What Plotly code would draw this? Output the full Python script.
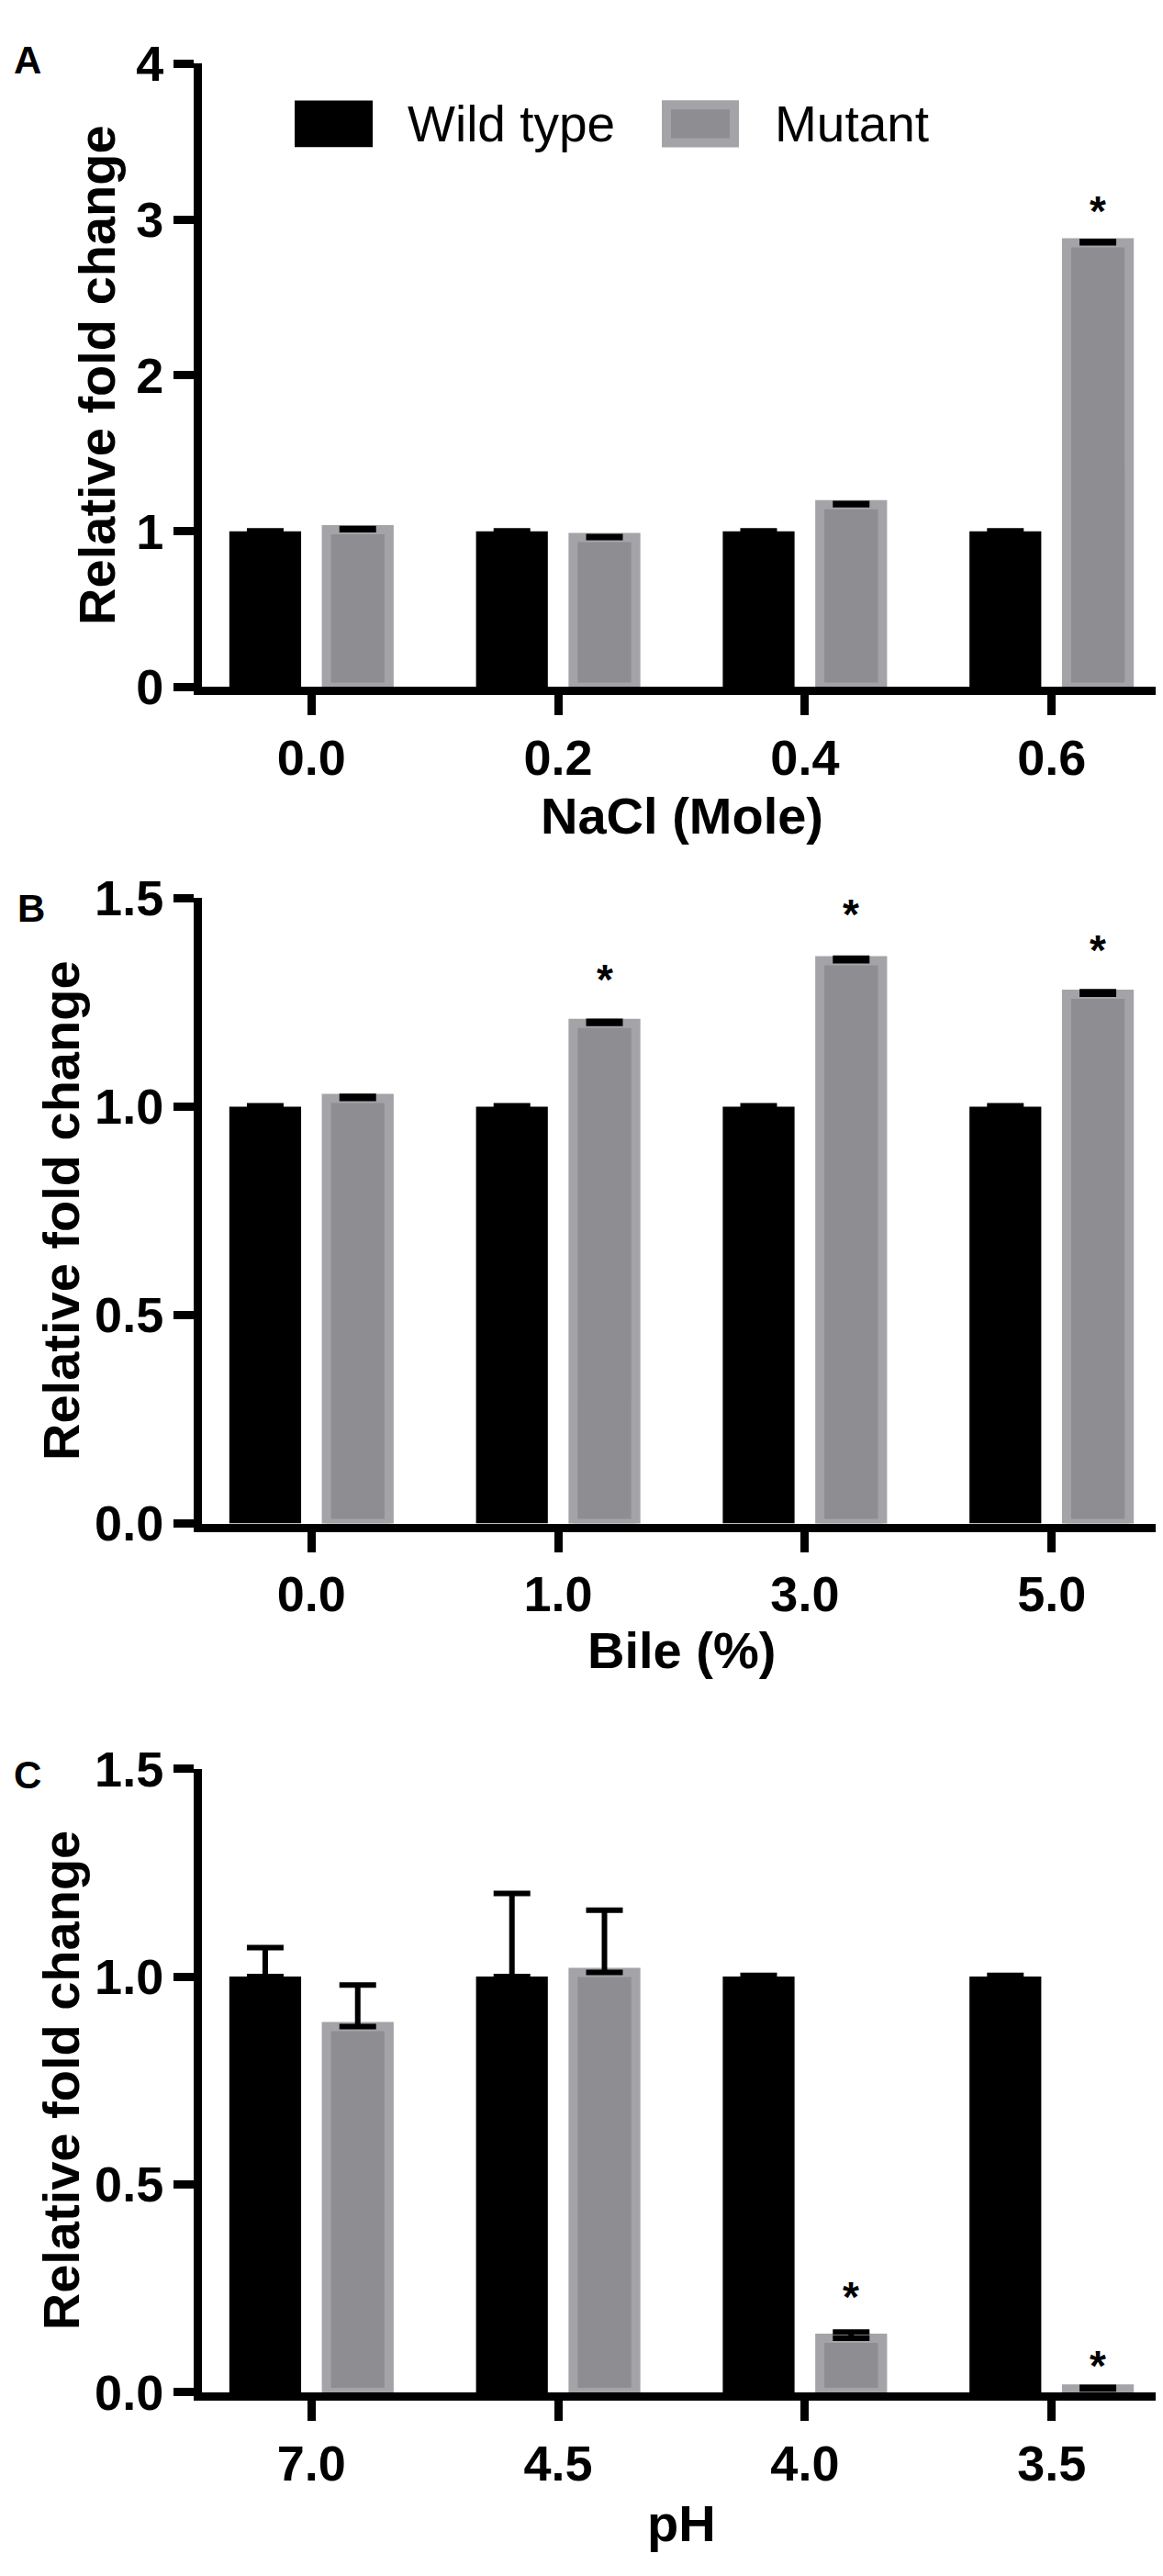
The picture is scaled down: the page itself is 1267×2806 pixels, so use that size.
import plotly.graph_objects as go

# data
nacl_labels = ["0.0", "0.2", "0.4", "0.6"]
nacl_wt = [1.0, 1.0, 1.0, 1.0]
nacl_wt_err = [0.003, 0.003, 0.003, 0.003]
nacl_mut = [1.01, 0.96, 1.17, 2.85]
nacl_mut_err = [0.008, 0.006, 0.008, 0.01]
nacl_star = [None, None, None, 3.12]

bile_labels = ["0.0", "1.0", "3.0", "5.0"]
bile_wt = [1.0, 1.0, 1.0, 1.0]
bile_wt_err = [0.002, 0.002, 0.002, 0.002]
bile_mut = [1.02, 1.20, 1.35, 1.27]
bile_mut_err = [0.005, 0.005, 0.006, 0.006]
bile_star = [None, 1.33, 1.485, 1.40]

ph_labels = ["7.0", "4.5", "4.0", "3.5"]
ph_wt = [1.0, 1.0, 1.0, 1.0]
ph_wt_err = [0.07, 0.20, 0.003, 0.003]
ph_mut = [0.88, 1.01, 0.13, 0.008]
ph_mut_err = [0.10, 0.15, 0.015, 0.004]
ph_star = [None, None, 0.254, 0.088]

W, H = 1267, 2806
FONT = "Liberation Sans, Arial, Helvetica, sans-serif"
GRAY_FILL = "#8e8d92"
GRAY_EDGE = "#a4a3a8"

def fx(p):
    return p / W

def fy(p):
    return 1 - p / H

# (labels, wt, wt_err, mut, mut_err, stars, ymax, dtick, fmt, top px, bottom px,
#  x title, x title y px, letter, letter pos, y title x px)
panels = [
    (nacl_labels, nacl_wt, nacl_wt_err, nacl_mut, nacl_mut_err, nacl_star, 4, 1, "d",
     32, 726, "NaCl (Mole)", 869, "A", (22, 28), 98),
    (bile_labels, bile_wt, bile_wt_err, bile_mut, bile_mut_err, bile_star, 1.5, 0.5, ".1f",
     961, 1657, "Bile (%)", 1798, "B", (26, 972), 58),
    (ph_labels, ph_wt, ph_wt_err, ph_mut, ph_mut_err, ph_star, 1.5, 0.5, ".1f",
     1930, 2624, "pH", 2770, "C", (22, 1937), 58),
]

fig = go.Figure()
annotations = []
x_left, x_right = 212, 1257

for i, p in enumerate(panels):
    (labels, wt, wt_err, mut, mut_err, stars, ymax, dtick, fmt,
     top, bottom, xtitle, xty, letter, lpos, ytx) = p
    n = "" if i == 0 else str(i + 1)
    xa, ya = "x" + n, "y" + n

    fig.add_trace(go.Bar(
        x=labels, y=wt, name="Wild type", xaxis=xa, yaxis=ya, width=0.291,
        marker=dict(color="black", line=dict(width=0)),
        error_y=dict(type="data", array=wt_err, arrayminus=[0, 0, 0, 0], symmetric=False,
                     color="black", thickness=6, width=20),
        showlegend=False))
    fig.add_trace(go.Bar(
        x=labels, y=mut, name="Mutant", xaxis=xa, yaxis=ya, width=0.254,
        marker=dict(color=GRAY_FILL, line=dict(color=GRAY_EDGE, width=10)),
        error_y=dict(type="data", array=mut_err, arrayminus=[0, 0, 0, 0], symmetric=False,
                     color="black", thickness=6, width=20),
        showlegend=False))

    axis_common = dict(showline=True, linewidth=9, linecolor="black", ticks="outside",
                       ticklen=22, tickwidth=9, tickcolor="black", showgrid=False,
                       zeroline=False, tickfont=dict(family=FONT, size=54, color="black", weight="bold"))
    fig.layout["xaxis" + n] = dict(
        type="category", domain=[fx(x_left), fx(x_right)], range=[-0.444, 3.444],
        anchor=ya, **axis_common)
    fig.layout["yaxis" + n] = dict(
        domain=[fy(bottom), fy(top)], range=[0, ymax], dtick=dtick, tickformat=fmt,
        anchor=xa, **axis_common)

    # significance stars over the mutant bars
    for k, s in enumerate(stars):
        if s is None:
            continue
        annotations.append(dict(x=k + 0.1875, y=s, xref=xa, yref=ya, text="<b>*</b>",
                                showarrow=False, yshift=-11, xanchor="center", yanchor="middle",
                                font=dict(family=FONT, size=46, color="black")))

    # axis titles and panel letter
    annotations.append(dict(x=fx((x_left + x_right) / 2), y=fy(xty), xref="paper", yref="paper",
                            text="<b>" + xtitle + "</b>", showarrow=False,
                            xanchor="center", yanchor="middle",
                            font=dict(family=FONT, size=56, color="black")))
    annotations.append(dict(x=fx(ytx), y=fy((top + bottom) / 2), xref="paper", yref="paper",
                            text="<b>Relative fold change</b>", textangle=-90, showarrow=False,
                            xanchor="center", yanchor="middle",
                            font=dict(family=FONT, size=56, color="black")))
    annotations.append(dict(x=fx(lpos[0]), y=fy(lpos[1]), xref="paper", yref="paper",
                            text="<b>" + letter + "</b>", showarrow=False,
                            xanchor="center", yanchor="middle",
                            font=dict(family=FONT, size=42, color="black")))

# legend drawn by hand (big swatches like the original)
shapes = [
    dict(type="rect", xref="paper", yref="paper", x0=fx(313), x1=fx(398), y0=fy(125), y1=fy(73),
         fillcolor="black", line=dict(width=0)),
    dict(type="rect", xref="paper", yref="paper", x0=fx(718), x1=fx(792), y0=fy(120), y1=fy(78),
         fillcolor=GRAY_FILL, line=dict(color=GRAY_EDGE, width=10)),
]
annotations.append(dict(x=fx(434), y=fy(99), xref="paper", yref="paper", xanchor="left", yanchor="middle",
                        text="Wild type", showarrow=False, font=dict(family=FONT, size=55, color="black")))
annotations.append(dict(x=fx(834), y=fy(99), xref="paper", yref="paper", xanchor="left", yanchor="middle",
                        text="Mutant", showarrow=False, font=dict(family=FONT, size=55, color="black")))

fig.update_layout(
    width=W, height=H, margin=dict(l=0, r=0, t=0, b=0),
    paper_bgcolor="white", plot_bgcolor="white",
    barmode="group", bargap=0.25, bargroupgap=0,
    showlegend=False, annotations=annotations, shapes=shapes,
    font=dict(family=FONT, color="black"))

fig.write_html("out.html")
